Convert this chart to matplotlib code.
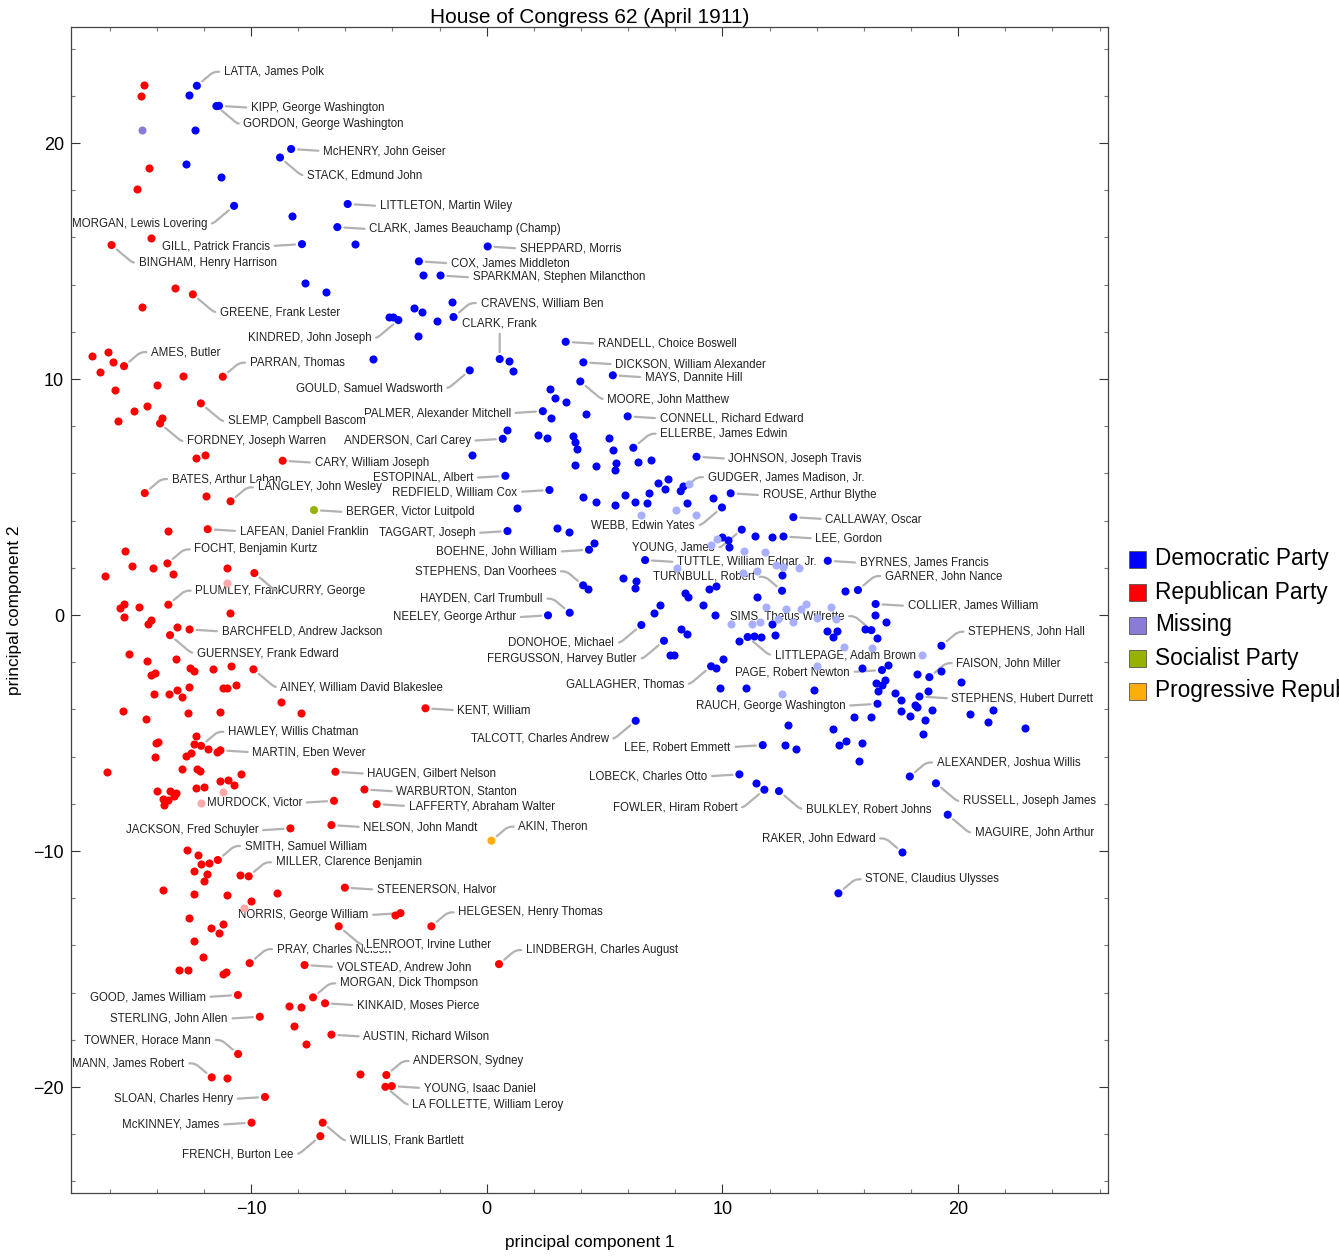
import matplotlib
matplotlib.use('Agg')
import matplotlib.pyplot as plt
from matplotlib.patches import Rectangle
from matplotlib.ticker import MultipleLocator

plt.rcParams['font.family'] = ['Liberation Sans', 'DejaVu Sans']

# ---------------------------------------------------------------
# donnees : points non etiquetes, par parti
# ---------------------------------------------------------------
dem_x = [-12.64, -12.38, -12.77, -11.29, -8.27, -5.60, -7.71, -6.82, -3.07, -4.14, -3.97,
         -2.70, -2.74, -2.11, -1.47, -2.90, -4.82,
         0.93, 1.12, 2.67, 2.91, 3.38, 2.74, 4.23, 0.86, 2.18, 2.56, 3.66, 3.75, 3.83, 5.18, 5.36,
         -0.62, 3.76, 4.62, 5.50, 5.43, 6.42, 6.97, 1.30, 4.07, 4.64, 5.43, 5.87, 6.29, 6.78, 6.87,
         7.28, 7.69, 7.55, 8.33, 8.49, 9.58, 2.97, 3.51, 4.55, 11.40, 9.97, 10.24, 10.27, 5.80,
         6.32, 6.28, 4.30, 9.41, 9.73, 8.40, 8.52, 11.48, 7.34, 7.09, 9.19, 9.69,
         12.09, 12.53, 15.19, 16.46,
         8.26, 8.50, 7.78, 7.93, 10.04, 9.73, 9.90, 10.98, 10.69, 11.33, 11.62, 11.41,
         12.12, 16.92, 12.21, 14.43, 14.88, 14.69, 16.07, 16.55, 15.92, 17.03, 18.24, 19.29, 20.12,
         16.50, 16.89, 16.77, 16.59, 13.90, 17.34, 17.58, 18.74, 18.17, 18.26, 17.59, 17.95, 18.89,
         20.52, 21.47, 21.27, 22.85, 18.61, 18.49, 15.60, 16.32, 12.77, 14.68, 12.64, 13.12, 14.96,
         15.26, 15.94, 15.81]
dem_y = [22.02, 20.55, 19.12, 18.57, 16.92, 15.72, 14.06, 13.70, 13.02, 12.64, 12.63,
         14.41, 12.84, 12.47, 13.25, 11.82, 10.86,
         10.78, 10.35, 9.56, 9.21, 9.04, 8.36, 8.53, 7.83, 7.64, 7.50, 7.60, 7.34, 7.05, 7.49, 6.98,
         6.79, 6.34, 6.33, 6.45, 6.13, 6.47, 6.57, 4.55, 5.01, 4.79, 4.65, 5.08, 4.80, 4.76, 5.18,
         5.58, 5.76, 5.34, 5.47, 4.75, 4.97, 3.69, 3.53, 3.06, 3.33, 3.29, 3.18, 2.89, 1.58,
         1.43, 1.16, 1.09, 1.11, 1.22, 0.92, 0.78, 0.78, 0.41, 0.07, 0.41, -0.01,
         3.29, 1.68, 1.02, 0.01,
         -0.58, -0.79, -1.71, -1.71, -1.88, -2.26, -3.08, -3.11, -1.10, -0.89, -0.93, -7.11,
         -0.39, -0.31, -0.85, -0.69, -0.67, -0.93, -0.59, -0.99, -2.26, -2.12, -2.49, -2.37, -2.83,
         -2.87, -2.75, -2.98, -3.21, -3.18, -3.29, -3.61, -3.23, -3.81, -3.88, -4.08, -4.28, -4.03,
         -4.21, -4.04, -4.55, -4.80, -4.44, -5.04, -4.34, -4.31, -4.66, -4.83, -5.50, -5.67, -5.51,
         -5.33, -5.41, -6.19]

# membres democrates en teinte claire
dem_light_x = [8.58, 6.55, 8.02, 8.87, 9.79, 9.53, 10.93, 11.79, 8.09, 10.87, 11.48, 11.87,
               12.26, 12.57, 13.25, 12.69, 13.35, 13.53, 14.61, 10.35, 11.24, 11.58, 12.36,
               13.00, 14.00, 14.84, 15.15, 16.35, 18.46, 14.03, 12.52]
dem_light_y = [5.54, 4.22, 4.45, 4.22, 3.22, 2.97, 2.71, 2.68, 1.98, 1.77, 1.86, 0.35,
               2.12, 2.05, 1.98, 0.27, 0.27, 0.47, 0.35, -0.37, -0.39, -0.28, -0.17,
               -0.28, -0.11, -0.17, -1.34, -1.41, -1.69, -2.15, -3.33]

rep_x = [-14.55, -14.65, -14.35, -14.82, -14.24, -13.22, -14.62,
         -16.76, -16.07, -15.84, -16.42, -12.87, -15.77, -13.99, -14.96, -14.40, -15.63, -13.78,
         -12.33, -11.94, -11.91, -13.51, -15.35, -15.06, -14.16, -13.31, -16.19, -11.02, -15.41,
         -15.56, -14.75, -15.41, -14.26, -10.90,
         -14.37, -13.14, -15.20, -14.41, -13.18, -12.61, -12.43, -11.60, -10.83, -14.26, -14.06,
         -12.64, -13.15, -11.21, -11.00, -10.63, -14.13, -13.49, -12.94, -8.74, -15.43, -14.47,
         -12.69, -11.33, -7.89, -12.33, -14.04, -13.95, -12.43, -11.84, -11.43, -14.07, -12.74,
         -12.55, -16.12, -12.95, -12.29, -12.16, -10.44, -11.32, -10.99, -10.73, -12.32, -11.99,
         -14.01, -13.46, -13.19, -13.27, -13.73, -13.53, -13.69, -12.70, -12.26, -12.12, -11.79,
         -12.40, -11.88, -12.00, -10.45, -13.75, -12.40, -11.04, -8.90, -10.00,
         -3.90, -12.64, -11.71, -11.20, -11.34, -12.44, -12.04, -13.07, -12.66, -11.21, -11.06,
         -8.41, -7.86, -8.19, -7.68, -11.00, -5.36]
rep_y = [22.46, 21.98, 18.94, 18.04, 15.97, 13.87, 13.05,
         10.97, 11.16, 10.73, 10.30, 10.13, 9.52, 9.73, 8.66, 8.84, 8.23, 8.35,
         6.65, 6.79, 5.06, 3.56, 2.70, 2.09, 1.98, 1.72, 1.64, 2.00, 0.48,
         0.30, 0.33, -0.07, -0.21, 0.08,
         -0.39, -0.51, -1.67, -1.94, -1.86, -2.23, -2.39, -2.29, -2.16, -2.54, -2.46,
         -3.04, -3.17, -3.08, -3.11, -2.95, -3.36, -3.33, -3.47, -3.67, -4.07, -4.42,
         -4.14, -4.12, -4.15, -5.13, -5.41, -5.37, -5.48, -5.69, -5.82, -6.00, -5.99,
         -5.85, -6.64, -6.54, -6.54, -6.60, -6.74, -7.03, -6.99, -7.19, -7.33, -7.30,
         -7.44, -7.47, -7.56, -7.68, -7.78, -7.85, -8.04, -9.97, -10.17, -10.55, -10.52,
         -10.85, -10.96, -11.26, -11.00, -11.64, -11.82, -11.86, -11.78, -12.12,
         -12.73, -12.82, -13.26, -13.08, -13.47, -13.83, -14.48, -15.04, -15.03, -15.22, -15.14,
         -16.55, -16.62, -17.42, -18.16, -19.62, -19.46]

rep_light_x = [-11.04, -11.20, -12.12, -10.31]
rep_light_y = [1.36, -7.51, -7.97, -12.40]

missing_x = [-14.64]
missing_y = [20.56]

# ---------------------------------------------------------------
# membres etiquetes : nom, parti, coordonnees
# ---------------------------------------------------------------
label_names = [
    "LATTA, James Polk", "KIPP, George Washington", "GORDON, George Washington",
    "McHENRY, John Geiser", "STACK, Edmund John", "MORGAN, Lewis Lovering",
    "LITTLETON, Martin Wiley", "CLARK, James Beauchamp (Champ)", "GILL, Patrick Francis",
    "SHEPPARD, Morris", "COX, James Middleton", "SPARKMAN, Stephen Milancthon",
    "CRAVENS, William Ben", "CLARK, Frank", "KINDRED, John Joseph",
    "RANDELL, Choice Boswell", "DICKSON, William Alexander", "MAYS, Dannite Hill",
    "GOULD, Samuel Wadsworth", "MOORE, John Matthew", "PALMER, Alexander Mitchell",
    "CONNELL, Richard Edward", "ANDERSON, Carl Carey", "ELLERBE, James Edwin",
    "JOHNSON, Joseph Travis", "ESTOPINAL, Albert", "GUDGER, James Madison, Jr.",
    "REDFIELD, William Cox", "ROUSE, Arthur Blythe", "CALLAWAY, Oscar",
    "WEBB, Edwin Yates", "TAGGART, Joseph", "LEE, Gordon",
    "BOEHNE, John William", "YOUNG, James", "BYRNES, James Francis",
    "TUTTLE, William Edgar, Jr.", "STEPHENS, Dan Voorhees", "GARNER, John Nance",
    "TURNBULL, Robert", "HAYDEN, Carl Trumbull", "NEELEY, George Arthur",
    "COLLIER, James William", "SIMS, Thetus Willrette", "STEPHENS, John Hall",
    "DONOHOE, Michael", "LITTLEPAGE, Adam Brown", "FAISON, John Miller",
    "PAGE, Robert Newton", "FERGUSSON, Harvey Butler", "GALLAGHER, Thomas",
    "STEPHENS, Hubert Durrett", "RAUCH, George Washington", "TALCOTT, Charles Andrew",
    "LEE, Robert Emmett", "ALEXANDER, Joshua Willis", "LOBECK, Charles Otto",
    "RUSSELL, Joseph James", "FOWLER, Hiram Robert", "BULKLEY, Robert Johns",
    "MAGUIRE, John Arthur", "RAKER, John Edward", "STONE, Claudius Ulysses",
    "BINGHAM, Henry Harrison", "GREENE, Frank Lester", "AMES, Butler",
    "PARRAN, Thomas", "SLEMP, Campbell Bascom", "FORDNEY, Joseph Warren",
    "CARY, William Joseph", "BATES, Arthur Laban", "LANGLEY, John Wesley",
    "LAFEAN, Daniel Franklin", "FOCHT, Benjamin Kurtz", "PLUMLEY, Frank",
    "CURRY, George", "BARCHFELD, Andrew Jackson", "GUERNSEY, Frank Edward",
    "AINEY, William David Blakeslee", "KENT, William", "HAWLEY, Willis Chatman",
    "MARTIN, Eben Wever", "HAUGEN, Gilbert Nelson", "WARBURTON, Stanton",
    "MURDOCK, Victor", "LAFFERTY, Abraham Walter", "NELSON, John Mandt",
    "JACKSON, Fred Schuyler", "SMITH, Samuel William", "MILLER, Clarence Benjamin",
    "STEENERSON, Halvor", "NORRIS, George William", "HELGESEN, Henry Thomas",
    "PRAY, Charles Nelson", "LENROOT, Irvine Luther", "LINDBERGH, Charles August",
    "VOLSTEAD, Andrew John", "MORGAN, Dick Thompson", "GOOD, James William",
    "KINKAID, Moses Pierce", "STERLING, John Allen", "AUSTIN, Richard Wilson",
    "TOWNER, Horace Mann", "ANDERSON, Sydney", "MANN, James Robert",
    "YOUNG, Isaac Daniel", "LA FOLLETTE, William Leroy", "SLOAN, Charles Henry",
    "McKINNEY, James", "WILLIS, Frank Bartlett", "FRENCH, Burton Lee",
    "BERGER, Victor Luitpold", "AKIN, Theron",
]
label_party = ['D'] * 63 + ['R'] * 48 + ['S', 'P']
label_x = [-12.30, -11.36, -11.47, -8.30, -8.77, -10.72, -5.90, -6.34, -7.84, 0.04, -2.88, -1.96,
           -1.41, 0.55, -3.75, 3.35, 4.10, 5.35, -0.72, 3.97, 2.38, 5.98, 0.68, 6.22, 8.90, 0.79,
           8.23, 2.66, 10.35, 13.01, 9.98, 0.88, 12.59, 4.34, 10.82, 14.47, 6.72, 4.09, 15.75,
           12.53, 3.52, 2.60, 16.50, 16.32, 19.29, 6.56, 11.07, 18.78, 16.77, 7.52, 9.52, 18.36,
           16.58, 6.32, 11.71, 17.95, 10.72, 19.06, 11.78, 12.40, 19.56, 17.64, 14.92,
           -15.92, -12.47, -15.39, -11.20, -12.13, -13.86, -8.66, -14.51, -10.87, -11.84, -13.55,
           -13.51, -9.86, -12.61, -13.44, -9.90, -2.60, -12.12, -11.30, -6.42, -5.19, -6.48,
           -4.67, -6.59, -8.33, -11.41, -10.10, -6.02, -3.66, -2.35, -10.06, -6.28, 0.52, -7.73,
           -7.37, -10.56, -6.86, -9.63, -6.59, -10.55, -4.26, -11.67, -4.03, -4.30, -9.41, -9.98,
           -6.96, -7.06,
           -7.33, 0.20]
label_y = [22.43, 21.58, 21.57, 19.75, 19.39, 17.34, 17.42, 16.44, 15.72, 15.62, 14.99, 14.39,
           12.63, 10.85, 12.50, 11.58, 10.71, 10.16, 10.37, 9.90, 8.64, 8.42, 7.47, 7.09, 6.71,
           5.90, 5.25, 5.30, 5.16, 4.15, 4.56, 3.56, 3.33, 2.77, 3.62, 2.30, 2.33, 1.26, 1.06,
           1.03, 0.10, -0.01, 0.47, -0.64, -1.30, -0.42, -0.93, -2.63, -2.33, -1.09, -2.17, -3.45,
           -3.76, -4.48, -5.51, -6.84, -6.75, -7.13, -7.40, -7.46, -8.46, -10.06, -11.79,
           15.68, 13.59, 10.55, 10.10, 8.97, 8.12, 6.54, 5.17, 4.82, 3.64, 2.19,
           0.44, 1.78, -0.61, -0.85, -2.30, -3.95, -5.54, -5.73, -6.64, -7.39, -7.87,
           -8.01, -8.90, -9.04, -10.38, -11.07, -11.55, -12.63, -13.19, -14.75, -13.19, -14.79,
           -14.83, -16.20, -16.10, -16.45, -17.02, -17.78, -18.60, -19.49, -19.59, -19.96, -19.99,
           -20.42, -21.51, -21.51, -22.08,
           4.45, -9.56]

legend_names = ["Democratic Party", "Republican Party", "Missing",
                "Socialist Party", "Progressive Republican Party"]

# ---------------------------------------------------------------
# styles et placement des etiquettes
# ---------------------------------------------------------------
couleurs = {'D': '#0000ff', 'R': '#ff0000', 'M': '#8b7bd8', 'S': '#98b000', 'P': '#ffad0a'}
couleur_legende = [couleurs['D'], couleurs['R'], couleurs['M'], couleurs['S'], couleurs['P']]

label_side = (['UR', 'R', 'DR', 'R', 'DR', 'DL', 'R', 'R', 'L', 'R', 'R', 'R', 'UR', 'U', 'DL',
               'R', 'R', 'R', 'DL', 'DR', 'L', 'R', 'L', 'UR', 'R', 'L', 'UR', 'L', 'R', 'R',
               'DL', 'L', 'R', 'L', 'DL', 'R', 'R', 'UL', 'UR', 'UL', 'UL', 'L', 'R', 'UL', 'UR',
               'DL', 'DR', 'UR', 'L', 'DL', 'DL', 'R', 'L', 'DL', 'L', 'UR', 'L', 'DR', 'DL',
               'DR', 'DR', 'UL', 'UR']
              + ['DR', 'DR', 'UR', 'UR', 'DR', 'DR', 'R', 'UR', 'UR', 'R', 'UR', 'UR', 'DR',
                 'R', 'DR', 'DR', 'R', 'UR', 'R', 'R', 'R', 'L', 'R', 'R', 'L', 'UR', 'UR',
                 'R', 'L', 'UR', 'UR', 'DR', 'UR', 'R', 'UR', 'L', 'R', 'L', 'R', 'UL', 'UR',
                 'UL', 'R', 'DR', 'L', 'L', 'DR', 'DL']
              + ['R', 'UR'])
decalages = {'R': (32, -2), 'L': (-32, -2), 'UR': (27, 14), 'DR': (27, -18),
             'UL': (-27, 14), 'DL': (-27, -18), 'U': (0, 36)}

W, H = 1339, 1258
fig = plt.figure(figsize=(W / 100, H / 100), dpi=100)
ax = fig.add_axes([71 / W, 65 / H, 1037 / W, 1166 / H])

taille = 34
ax.scatter(dem_x, dem_y, s=taille, color=couleurs['D'], lw=0, zorder=4)
ax.scatter(dem_light_x, dem_light_y, s=taille, color='#a9afff', lw=0, zorder=4)
ax.scatter(rep_x, rep_y, s=taille, color=couleurs['R'], lw=0, zorder=4)
ax.scatter(rep_light_x, rep_light_y, s=taille, color='#ffaaaa', lw=0, zorder=4)
ax.scatter(missing_x, missing_y, s=taille, color=couleurs['M'], lw=0, zorder=4)
ax.scatter(label_x, label_y, s=taille, color=[couleurs[p] for p in label_party], lw=0, zorder=4)

# etiquettes avec traits de rappel gris
for nom, x, y, cote in zip(label_names, label_x, label_y, label_side):
    dx, dy = decalages[cote]
    if cote == 'U':
        ha, rel, conn = 'center', (0.5, 0), 'arc3,rad=0'
    else:
        ha = 'left' if dx > 0 else 'right'
        rel = (0, 0.5) if dx > 0 else (1, 0.5)
        if cote in ('R', 'L'):
            conn = 'arc3,rad=0'
        else:
            angB = 40 if cote in ('UR', 'DL') else -40
            conn = 'angle,angleA=0,angleB=%d,rad=4' % angB
    ax.annotate(nom, xy=(x, y), xytext=(dx, dy), textcoords='offset pixels',
                ha=ha, va='center', fontsize=8.3, color='#222222', zorder=3,
                bbox=dict(boxstyle='square,pad=0.05', fc='white', ec='none'),
                arrowprops=dict(arrowstyle='-', color='#b2b2b2', lw=1.6, relpos=rel,
                                shrinkA=3, shrinkB=5, connectionstyle=conn))

ax.set_xlim(-17.64, 26.36)
ax.set_ylim(-24.49, 24.92)
ax.set_xticks([-10, 0, 10, 20])
ax.set_yticks([-20, -10, 0, 10, 20])
ax.xaxis.set_minor_locator(MultipleLocator(2))
ax.yaxis.set_minor_locator(MultipleLocator(2))
ax.tick_params(which='both', direction='in', top=True, right=True, labelsize=13)
ax.tick_params(which='major', length=6.5, width=0.8, color='#333333')
ax.tick_params(which='minor', length=3.2, width=0.8, color='#777777')
ax.tick_params(axis='x', pad=6)
ax.tick_params(axis='y', pad=5)
for sp in ax.spines.values():
    sp.set_color('#444444')
    sp.set_linewidth(0.9)
    sp.set_zorder(6)

ax.set_title('House of Congress 62 (April 1911)', fontsize=15, pad=3)
ax.set_xlabel('principal component 1', fontsize=12.4)
ax.set_ylabel('principal component 2', fontsize=12.4)
ax.xaxis.set_label_coords(0.5, -(1235 - 1193) / 1166)
ax.yaxis.set_label_coords(-(71 - 22) / 1037, 0.5)

# legende a droite (coupee par le bord de la figure, comme l'original)
for i, (nom, c) in enumerate(zip(legend_names, couleur_legende)):
    yc = 559 + 33 * i
    fig.add_artist(Rectangle((1129 / W, 1 - (yc + 9) / H), 17 / W, 17 / H,
                             transform=fig.transFigure, fc=c, ec='#555555', lw=0.6))
    fig.text(1155 / W, 1 - yc / H, nom, fontsize=16.3, va='center', ha='left')

fig.savefig('out.png', dpi=100)
